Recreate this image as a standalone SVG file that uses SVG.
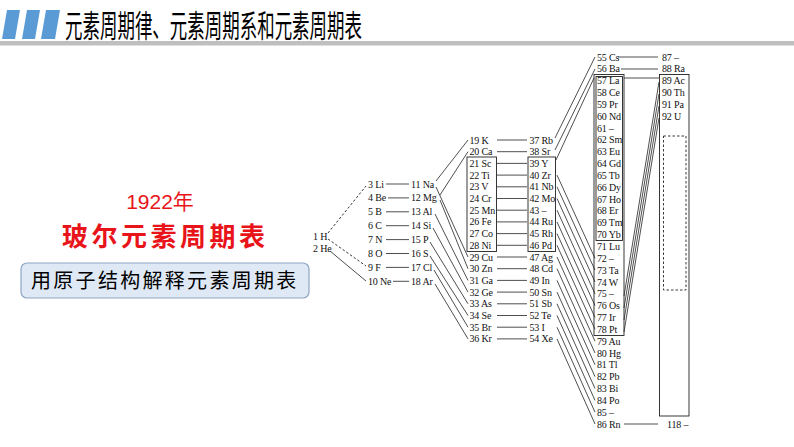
<svg xmlns="http://www.w3.org/2000/svg" width="794" height="447" viewBox="0 0 794 447">
<style>
.e{font-family:"Liberation Serif","Times New Roman",serif;font-size:10px;letter-spacing:-0.15px;fill:#111}
.l{stroke:#222;stroke-width:0.8;fill:none}
.b{stroke:#222;stroke-width:0.9;fill:none}
.d{stroke:#222;stroke-width:0.9;fill:none;stroke-dasharray:2.5 2}
</style>
<rect width="794" height="447" fill="#fff"/>
<g id="header">
<polygon points="7,10 20,10 15,39 2,39" fill="#5b9bd5"/>
<polygon points="27,10 40,10 35,39 22,39" fill="#5b9bd5"/>
<polygon points="46,10 60,10 55,39 41,39" fill="#5b9bd5"/>
<text x="65" y="37" font-family="'Noto Sans CJK SC',sans-serif" font-size="31" textLength="297" lengthAdjust="spacingAndGlyphs" fill="#000">元素周期律、元素周期系和元素周期表</text>
<rect x="0" y="41" width="794" height="4.5" fill="#bfbfbf"/>
</g>
<g id="title-left">
<text x="160" y="209" text-anchor="middle" font-family="'Liberation Sans','Noto Sans CJK SC',sans-serif" font-size="21" fill="#e8141a">1922年</text>
<text x="62" y="246" font-family="'Noto Sans CJK SC',sans-serif" font-weight="bold" font-size="26" letter-spacing="3.5" fill="#e8141a">玻尔元素周期表</text>
</g>
<g id="subtitle-box">
<rect x="21" y="263" width="288" height="35" rx="6" fill="#dfe9f5" stroke="#8ea6c4" stroke-width="1.2"/>
<text x="31" y="288" font-family="'Noto Sans CJK SC',sans-serif" font-size="20" letter-spacing="2.3" fill="#000">用原子结构解释元素周期表</text>
</g>
<g id="connectors">
<line class="d" x1="328" y1="233" x2="366" y2="186"/>
<line class="d" x1="328" y1="239" x2="366" y2="266"/>
<line class="l" x1="330" y1="251" x2="366" y2="281"/>
<line class="l" x1="386" y1="184" x2="409" y2="184"/>
<line class="l" x1="388" y1="197.9" x2="409" y2="197.9"/>
<line class="l" x1="386" y1="211.8" x2="409" y2="211.8"/>
<line class="l" x1="386" y1="225.7" x2="409" y2="225.7"/>
<line class="l" x1="386" y1="239.6" x2="409" y2="239.6"/>
<line class="l" x1="386" y1="253.5" x2="409" y2="253.5"/>
<line class="l" x1="386" y1="267.4" x2="409" y2="267.4"/>
<line class="l" x1="393" y1="281.3" x2="409" y2="281.3"/>
<line class="l" x1="436" y1="181" x2="468" y2="140"/>
<line class="l" x1="440" y1="195" x2="468" y2="151.7"/>
<line class="l" x1="436" y1="187" x2="468" y2="257"/>
<line class="l" x1="440" y1="200" x2="468" y2="268.7"/>
<line class="l" x1="435" y1="214" x2="468" y2="280.4"/>
<line class="l" x1="433" y1="228" x2="468" y2="292.1"/>
<line class="l" x1="430" y1="242" x2="468" y2="303.8"/>
<line class="l" x1="430" y1="256" x2="468" y2="315.5"/>
<line class="l" x1="434" y1="270" x2="468" y2="327.2"/>
<line class="l" x1="435" y1="284" x2="468" y2="338.9"/>
<line class="l" x1="497" y1="140" x2="527" y2="140"/>
<line class="l" x1="497" y1="151.7" x2="527" y2="151.7"/>
<line class="l" x1="497" y1="163.4" x2="527" y2="163.4"/>
<line class="l" x1="497" y1="175.1" x2="527" y2="175.1"/>
<line class="l" x1="497" y1="186.8" x2="527" y2="186.8"/>
<line class="l" x1="497" y1="198.5" x2="527" y2="198.5"/>
<line class="l" x1="497" y1="210.2" x2="527" y2="210.2"/>
<line class="l" x1="497" y1="221.9" x2="527" y2="221.9"/>
<line class="l" x1="497" y1="233.6" x2="527" y2="233.6"/>
<line class="l" x1="497" y1="245.3" x2="527" y2="245.3"/>
<line class="l" x1="497" y1="257" x2="527" y2="257"/>
<line class="l" x1="497" y1="268.7" x2="527" y2="268.7"/>
<line class="l" x1="497" y1="280.4" x2="527" y2="280.4"/>
<line class="l" x1="497" y1="292.1" x2="527" y2="292.1"/>
<line class="l" x1="497" y1="303.8" x2="527" y2="303.8"/>
<line class="l" x1="497" y1="315.5" x2="527" y2="315.5"/>
<line class="l" x1="497" y1="327.2" x2="527" y2="327.2"/>
<line class="l" x1="497" y1="338.9" x2="527" y2="338.9"/>
<line class="l" x1="555" y1="138" x2="595" y2="57"/>
<line class="l" x1="555" y1="150" x2="595" y2="69"/>
<line class="l" x1="556" y1="160" x2="594" y2="78"/>
<line class="l" x1="557" y1="175.1" x2="595" y2="258.3"/>
<line class="l" x1="557" y1="186.8" x2="595" y2="270.1"/>
<line class="l" x1="557" y1="198.5" x2="595" y2="282"/>
<line class="l" x1="557" y1="210.2" x2="595" y2="293.8"/>
<line class="l" x1="557" y1="221.9" x2="595" y2="305.6"/>
<line class="l" x1="557" y1="233.6" x2="595" y2="317.5"/>
<line class="l" x1="557" y1="245.3" x2="595" y2="329.3"/>
<line class="l" x1="557" y1="257" x2="595" y2="341.2"/>
<line class="l" x1="557" y1="268.7" x2="595" y2="353"/>
<line class="l" x1="557" y1="280.4" x2="595" y2="364.8"/>
<line class="l" x1="557" y1="292.1" x2="595" y2="376.7"/>
<line class="l" x1="557" y1="303.8" x2="595" y2="388.5"/>
<line class="l" x1="557" y1="315.5" x2="595" y2="400.4"/>
<line class="l" x1="557" y1="327.2" x2="595" y2="412.2"/>
<line class="l" x1="557" y1="338.9" x2="595" y2="424"/>
<line class="l" x1="618" y1="57" x2="658" y2="57"/>
<line class="l" x1="621" y1="69" x2="658" y2="69"/>
<line class="l" x1="624" y1="78" x2="659" y2="78"/>
<line class="l" x1="624" y1="296" x2="659" y2="82"/>
<line class="l" x1="624" y1="308" x2="659" y2="94"/>
<line class="l" x1="624" y1="320" x2="659" y2="106"/>
<line class="l" x1="624" y1="332" x2="659" y2="118"/>
<line class="l" x1="624" y1="424" x2="658" y2="424"/>
</g>
<g id="period1">
<text id="H" class="e" x="313" y="239.5">1 H</text>
<text id="He" class="e" x="313" y="251.5">2 He</text>
</g>
<g id="period2">
<text id="Li" class="e" x="368" y="187.5">3 Li</text>
<text id="Be" class="e" x="368" y="201.4">4 Be</text>
<text id="B" class="e" x="368" y="215.3">5 B</text>
<text id="C" class="e" x="368" y="229.2">6 C</text>
<text id="N" class="e" x="368" y="243.1">7 N</text>
<text id="O" class="e" x="368" y="257">8 O</text>
<text id="F" class="e" x="368" y="270.9">9 F</text>
<text id="Ne" class="e" x="368" y="284.8">10 Ne</text>
</g>
<g id="period3">
<text id="Na" class="e" x="411" y="187.5">11 Na</text>
<text id="Mg" class="e" x="411" y="201.4">12 Mg</text>
<text id="Al" class="e" x="411" y="215.3">13 Al</text>
<text id="Si" class="e" x="411" y="229.2">14 Si</text>
<text id="P" class="e" x="411" y="243.1">15 P</text>
<text id="S" class="e" x="411" y="257">16 S</text>
<text id="Cl" class="e" x="411" y="270.9">17 Cl</text>
<text id="Ar" class="e" x="411" y="284.8">18 Ar</text>
</g>
<g id="period4">
<rect class="b" x="467" y="157" width="29.5" height="94.5"/>
<text id="K" class="e" x="469.5" y="143.5">19 K</text>
<text id="Ca" class="e" x="469.5" y="155.2">20 Ca</text>
<text id="Sc" class="e" x="469.5" y="166.9">21 Sc</text>
<text id="Ti" class="e" x="469.5" y="178.6">22 Ti</text>
<text id="V" class="e" x="469.5" y="190.3">23 V</text>
<text id="Cr" class="e" x="469.5" y="202">24 Cr</text>
<text id="Mn" class="e" x="469.5" y="213.7">25 Mn</text>
<text id="Fe" class="e" x="469.5" y="225.4">26 Fe</text>
<text id="Co" class="e" x="469.5" y="237.1">27 Co</text>
<text id="Ni" class="e" x="469.5" y="248.8">28 Ni</text>
<text id="Cu" class="e" x="469.5" y="260.5">29 Cu</text>
<text id="Zn" class="e" x="469.5" y="272.2">30 Zn</text>
<text id="Ga" class="e" x="469.5" y="283.9">31 Ga</text>
<text id="Ge" class="e" x="469.5" y="295.6">32 Ge</text>
<text id="As" class="e" x="469.5" y="307.3">33 As</text>
<text id="Se" class="e" x="469.5" y="319">34 Se</text>
<text id="Br" class="e" x="469.5" y="330.7">35 Br</text>
<text id="Kr" class="e" x="469.5" y="342.4">36 Kr</text>
</g>
<g id="period5">
<rect class="b" x="528" y="157" width="27.5" height="94.5"/>
<text id="Rb" class="e" x="529.5" y="143.5">37 Rb</text>
<text id="Sr" class="e" x="529.5" y="155.2">38 Sr</text>
<text id="Y" class="e" x="529.5" y="166.9">39 Y</text>
<text id="Zr" class="e" x="529.5" y="178.6">40 Zr</text>
<text id="Nb" class="e" x="529.5" y="190.3">41 Nb</text>
<text id="Mo" class="e" x="529.5" y="202">42 Mo</text>
<text id="e43" class="e" x="529.5" y="213.7">43 –</text>
<text id="Ru" class="e" x="529.5" y="225.4">44 Ru</text>
<text id="Rh" class="e" x="529.5" y="237.1">45 Rh</text>
<text id="Pd" class="e" x="529.5" y="248.8">46 Pd</text>
<text id="Ag" class="e" x="529.5" y="260.5">47 Ag</text>
<text id="Cd" class="e" x="529.5" y="272.2">48 Cd</text>
<text id="In" class="e" x="529.5" y="283.9">49 In</text>
<text id="Sn" class="e" x="529.5" y="295.6">50 Sn</text>
<text id="Sb" class="e" x="529.5" y="307.3">51 Sb</text>
<text id="Te" class="e" x="529.5" y="319">52 Te</text>
<text id="I" class="e" x="529.5" y="330.7">53 I</text>
<text id="Xe" class="e" x="529.5" y="342.4">54 Xe</text>
</g>
<g id="period6">
<rect class="b" x="594" y="74.5" width="30" height="261"/>
<rect class="b" x="596" y="76.5" width="26.5" height="164"/>
<text id="Cs" class="e" x="597" y="60.5">55 Cs</text>
<text id="Ba" class="e" x="597" y="72.3">56 Ba</text>
<text id="La" class="e" x="597" y="84.2">57 La</text>
<text id="Ce" class="e" x="597" y="96">58 Ce</text>
<text id="Pr" class="e" x="597" y="107.9">59 Pr</text>
<text id="Nd" class="e" x="597" y="119.7">60 Nd</text>
<text id="e61" class="e" x="597" y="131.5">61 –</text>
<text id="Sm" class="e" x="597" y="143.4">62 Sm</text>
<text id="Eu" class="e" x="597" y="155.2">63 Eu</text>
<text id="Gd" class="e" x="597" y="167.1">64 Gd</text>
<text id="Tb" class="e" x="597" y="178.9">65 Tb</text>
<text id="Dy" class="e" x="597" y="190.7">66 Dy</text>
<text id="Ho" class="e" x="597" y="202.6">67 Ho</text>
<text id="Er" class="e" x="597" y="214.4">68 Er</text>
<text id="Tm" class="e" x="597" y="226.3">69 Tm</text>
<text id="Yb" class="e" x="597" y="238.1">70 Yb</text>
<text id="Lu" class="e" x="597" y="249.9">71 Lu</text>
<text id="e72" class="e" x="597" y="261.8">72 –</text>
<text id="Ta" class="e" x="597" y="273.6">73 Ta</text>
<text id="W" class="e" x="597" y="285.5">74 W</text>
<text id="e75" class="e" x="597" y="297.3">75 –</text>
<text id="Os" class="e" x="597" y="309.1">76 Os</text>
<text id="Ir" class="e" x="597" y="321">77 Ir</text>
<text id="Pt" class="e" x="597" y="332.8">78 Pt</text>
<text id="Au" class="e" x="597" y="344.7">79 Au</text>
<text id="Hg" class="e" x="597" y="356.5">80 Hg</text>
<text id="Tl" class="e" x="597" y="368.3">81 Tl</text>
<text id="Pb" class="e" x="597" y="380.2">82 Pb</text>
<text id="Bi" class="e" x="597" y="392">83 Bi</text>
<text id="Po" class="e" x="597" y="403.9">84 Po</text>
<text id="e85" class="e" x="597" y="415.7">85 –</text>
<text id="Rn" class="e" x="597" y="427.5">86 Rn</text>
</g>
<g id="period7">
<rect class="b" x="659.5" y="74.5" width="29.5" height="341.5"/>
<rect class="d" x="663.5" y="136" width="22.5" height="154"/>
<text id="e87" class="e" x="662" y="60.5">87 –</text>
<text id="Ra" class="e" x="662" y="72.3">88 Ra</text>
<text id="Ac" class="e" x="662" y="84.2">89 Ac</text>
<text id="Th" class="e" x="662" y="96">90 Th</text>
<text id="Pa" class="e" x="662" y="107.9">91 Pa</text>
<text id="U" class="e" x="662" y="119.7">92 U</text>
<text id="e118" class="e" x="667" y="427.5">118 –</text>
</g>
</svg>
